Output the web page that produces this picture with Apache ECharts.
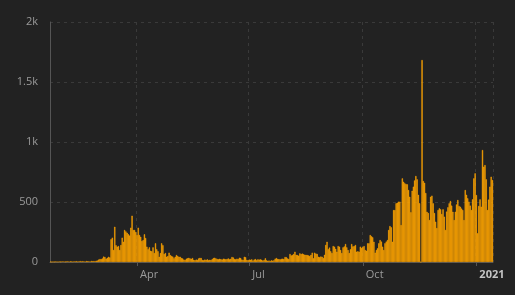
<!DOCTYPE html>
<html><head><meta charset="utf-8">
<script src="https://cdn.jsdelivr.net/npm/echarts@6/dist/echarts.min.js"></script>
<style>html,body{margin:0;padding:0;background:#222222;}#c{width:515px;height:295px;}</style>
</head><body><div id="c"></div>
<script>
// first day of the daily series
const startDate = '2020-01-22';

// daily values (one per day from startDate)
const valuesJanFeb = [2,1,3,2,4,3,2,5,3,4, 6,4,3,5,7,4,6,5,3,6, 5,7,4,6,8,5,7,6,4,8, 6,7,5,9,7,8];
const valuesEarlyMar = [8,11,12,20,25,24,30,45,42,28,35,44,38];
const valuesSpring = [190,203,100,294,140,128,133,100,142,203,
  169,267,255,244,231,220,286,386,267,267,
  250,225,286,225,210,175,183,231,200,128,
  106,122,94,90,122,75,156,106,90,44,
  75,156,140,67,75,44,50,78,58,50,
  45,31,44,58,50,44,44,33,30];
const valuesSummerLow = [20,17,28,31,35,30,27,33,18,15, 20,17,30,35,33,17,14,20,18,22,
  15,19,17,24,33,36,30,25,22,27, 24,20,28,26,23,25,30,22,27,42,
  38,25,22,28,24,36,33,20,17,44, 40,17,15,20];
const valuesJulAug = [18,22,12,20,25,15,22,20,22,19, 12,17,31,14,10,12,8,14,11,15,
  28,33,25,24,22,26,28,25,42,40, 30,25,67,55,58,67,86,60,58,53,
  72,67,70,65,61,60,58,55,50,60, 78,31,78,70,67,44,40,46,44,33];
const valuesSepOct = [60,142,169,106,120,90,75,133,128,110,
  86,133,128,100,75,122,130,150,122,100,
  75,106,150,130,133,142,86,90,86,128,
  117,125,133,100,94,156,156,
  225,215,206,169,78,100,114];
const valuesOctNov = [156,183,170,128,100,156,170,183,267,300,
  289,169,433,433,489,494,503,503,308,697,
  669,656,650,647,600,544,415,594,628,680,
  717,689,560,490,0,1683];
const valuesLateNov = [675,660,575,419,408,350,544,553,489,408,336,283,433,447];
const valuesDec = [439,400,439,378,267,420,456,489,508,470,
  419,350,419,480,517,467,461,445,433,350,
  600,560,531,503,470,433,522,697];
const valuesNewYear = [739,558,239,467,522,461,933,794,808,689,433,520,628,711,683];

const dailyValues = [].concat(valuesJanFeb, valuesEarlyMar, valuesSpring, valuesSummerLow,
  valuesJulAug, valuesSepOct, valuesOctNov, valuesLateNov, valuesDec, valuesNewYear);

// x tick labels
const tickDates = ['2020-04-01','2020-07-01','2020-10-01','2021-01-01'];
const tickLabels = ['Apr','Jul','Oct','2021'];

// y axis
const yMax = 2000, yStep = 500;

function pad(n){return n<10?'0'+n:''+n;}
const categories = [];
{
  const p = startDate.split('-').map(Number);
  const t0 = Date.UTC(p[0], p[1]-1, p[2]);
  for (let i = 0; i < dailyValues.length; i++) {
    const d = new Date(t0 + i*86400000);
    categories.push(d.getUTCFullYear()+'-'+pad(d.getUTCMonth()+1)+'-'+pad(d.getUTCDate()));
  }
}
const tickSet = new Set(tickDates);
const isTick = (idx, val) => tickSet.has(categories[idx]);

const chart = echarts.init(document.getElementById('c'), null, {renderer:'canvas'});
chart.setOption({
  backgroundColor: '#222222',
  animation: false,
  textStyle: {fontFamily: 'Open Sans'},
  grid: {left: 50, right: 22, top: 22, bottom: 33, containLabel: false},
  xAxis: {
    type: 'category',
    data: categories,
    boundaryGap: true,
    axisLine: {show: true, lineStyle: {color: '#555555'}},
    axisTick: {show: true, interval: isTick, alignWithLabel: true, length: 4, lineStyle: {color: '#555555'}},
    splitLine: {show: true, interval: isTick, lineStyle: {color: '#3a3a3a', type: [3,4]}},
    axisLabel: {
      interval: isTick,
      align: 'left',
      padding: [0,0,0,3],
      margin: 7,
      color: '#9a9a9a',
      fontSize: 11,
      fontFamily: 'Open Sans',
      formatter: function(v){
        const i = tickDates.indexOf(v);
        if (i < 0) return '';
        const l = tickLabels[i];
        return /^\d{4}$/.test(l) ? '{y|'+l+'}' : l;
      },
      rich: {y: {fontWeight: 'bold', color: '#c4c4c4', fontSize: 11, fontFamily: 'Open Sans'}}
    }
  },
  yAxis: {
    type: 'value',
    min: 0, max: yMax, interval: yStep,
    axisLine: {show: true, lineStyle: {color: '#555555'}},
    axisTick: {show: false},
    splitLine: {show: true, lineStyle: {color: '#3a3a3a', type: [3,4]}},
    axisLabel: {
      color: '#9a9a9a', fontSize: 11, fontFamily: 'Open Sans', margin: 12,
      formatter: v => v >= 1000 ? (v/1000)+'k' : String(v)
    }
  },
  series: [{
    type: 'bar',
    data: dailyValues,
    barCategoryGap: '0%',
    itemStyle: {color: '#FFA500', borderColor: '#FFA500', borderWidth: 0.5}
  }]
});
</script>
</body></html>
